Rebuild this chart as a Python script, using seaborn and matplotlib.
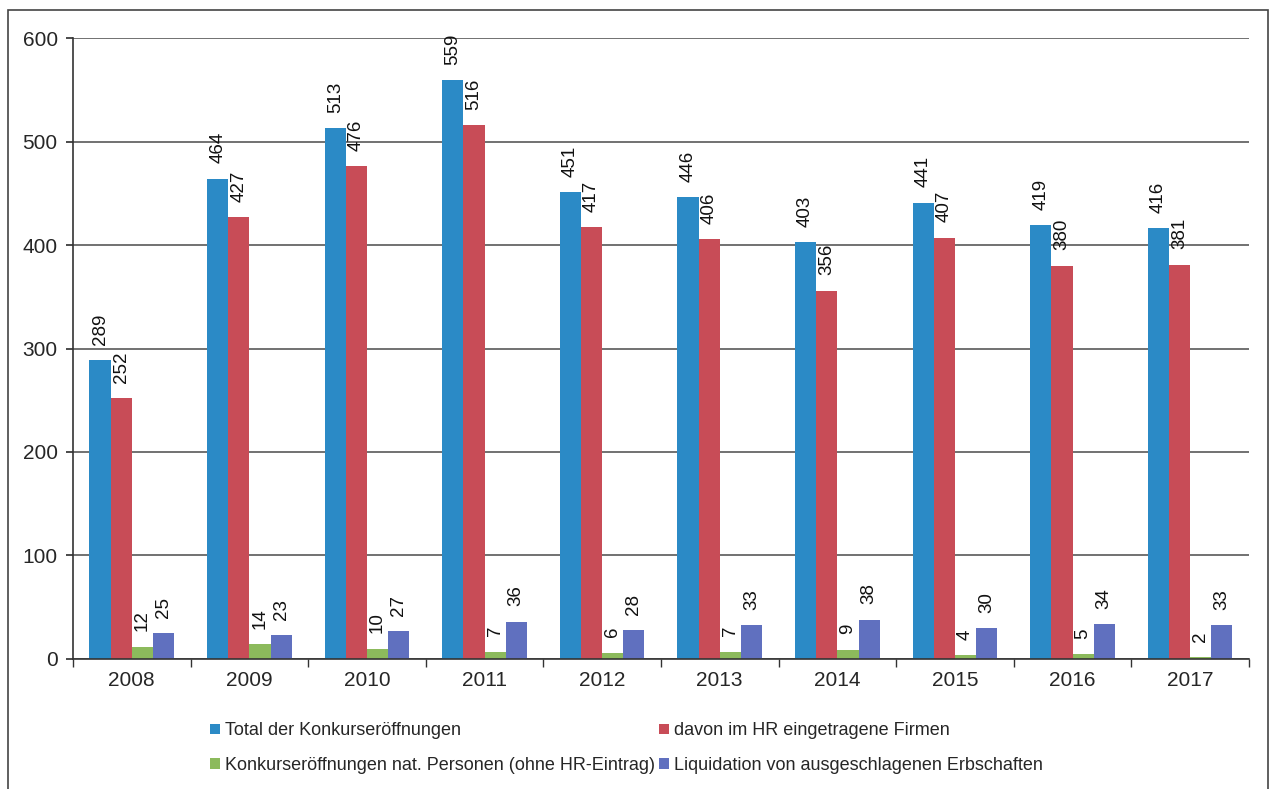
import matplotlib

matplotlib.use("Agg")
import matplotlib.pyplot as plt
from matplotlib.patches import Rectangle
import numpy as np
import pandas as pd
import seaborn as sns

years = ["2008", "2009", "2010", "2011", "2012", "2013", "2014", "2015", "2016", "2017"]
total = [289, 464, 513, 559, 451, 446, 403, 441, 419, 416]
hr_firms = [252, 427, 476, 516, 417, 406, 356, 407, 380, 381]
nat_persons = [12, 14, 10, 7, 6, 7, 9, 4, 5, 2]
inheritances = [25, 23, 27, 36, 28, 33, 38, 30, 34, 33]

series_names = [
    "Total der Konkurseröffnungen",
    "davon im HR eingetragene Firmen",
    "Konkurseröffnungen nat. Personen (ohne HR-Eintrag)",
    "Liquidation von ausgeschlagenen Erbschaften",
]
colors = ["#2b8ac6", "#c84c57", "#8cba5c", "#6070bf"]

df = pd.DataFrame({
    "year": years * 4,
    "value": total + hr_firms + nat_persons + inheritances,
    "series": [name for name in series_names for _ in years],
})

sns.set_theme(style="white")
plt.rcParams["font.family"] = ["Liberation Sans", "DejaVu Sans"]

fig = plt.figure(figsize=(12.74, 7.89), dpi=100)
ax = fig.add_axes([0.0573, 0.1648, 0.9230, 0.7870])

sns.barplot(
    data=df, x="year", y="value", hue="series", hue_order=series_names,
    palette=colors, width=0.72, saturation=1, linewidth=0, ax=ax, legend=True,
)

for container in ax.containers:
    ax.bar_label(container, fmt="%d", rotation=90, padding=11, fontsize=13.5, color="#111111")

ax.set_ylim(0, 600)
ax.set_xlim(-0.5, len(years) - 0.5)
ax.set_yticks(range(0, 601, 100))
ax.yaxis.grid(True, color="#4a4a4a", linewidth=1.1)
ax.set_axisbelow(True)
ax.set_xlabel("")
ax.set_ylabel("")
ax.tick_params(axis="y", labelsize=15, length=5, color="#333333", direction="out", left=True, pad=6)
ax.tick_params(axis="x", which="major", labelsize=15, length=0, pad=9)
ax.set_xticks(np.arange(-0.5, len(years), 1.0), minor=True)
ax.tick_params(axis="x", which="minor", length=6, color="#333333", bottom=True, direction="out")
for side in ["top", "right"]:
    ax.spines[side].set_visible(False)
for side in ["left", "bottom"]:
    ax.spines[side].set_color("#333333")
    ax.spines[side].set_linewidth(1.2)

handles, labels = ax.get_legend_handles_labels()
ax.get_legend().remove()
order = [0, 2, 1, 3]
fig.legend(
    [handles[i] for i in order], [labels[i] for i in order],
    loc="upper left", bbox_to_anchor=(0.152, 0.105), bbox_transform=fig.transFigure,
    ncol=2, frameon=False,
    handlelength=0.55, handleheight=0.55, handletextpad=0.3,
    columnspacing=0.2, labelspacing=0.95,
    prop={"family": ["Liberation Sans"], "size": 13},
)

fig.patches.append(Rectangle((0.006, -0.01), 0.989, 0.997, transform=fig.transFigure,
                             fill=False, edgecolor="#444444", linewidth=1.2))

fig.savefig("out.png", dpi=100)
